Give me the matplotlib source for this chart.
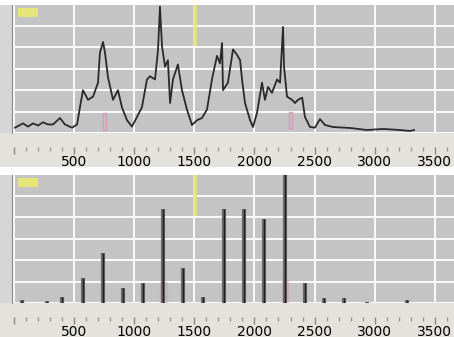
"""Two-panel mass spectrum view: profile trace on top, centroided peaks below."""

import matplotlib.pyplot as plt
from matplotlib.patches import Rectangle

# profile spectrum (top panel)
profile_mz = [10, 77, 118, 160, 201, 243, 284, 326, 384, 425, 484, 526, 550,
              575, 617, 659, 700, 716, 742, 758, 783, 825, 866, 899, 941, 982,
              1024, 1065, 1107, 1132, 1174, 1199, 1215, 1232, 1257, 1281, 1299,
              1323, 1364, 1398, 1439, 1481, 1523, 1564, 1606, 1647, 1689, 1714,
              1731, 1739, 1780, 1822, 1855, 1881, 1897, 1922, 1964, 1988, 2022,
              2063, 2088, 2113, 2146, 2188, 2213, 2238, 2246, 2271, 2313, 2337,
              2362, 2397, 2420, 2462, 2503, 2545, 2586, 2653, 2794, 2936, 3069,
              3210, 3293, 3327]
profile_int = [5, 9, 6, 9, 7, 10, 8, 8, 14, 8, 5, 8, 24,
               40, 31, 34, 47, 75, 85, 75, 52, 31, 40, 24, 12, 6,
               15, 24, 50, 53, 50, 78, 118, 81, 62, 68, 28,
               50, 64, 40, 22, 7.5, 12, 14, 22, 50, 72, 65,
               84, 40, 47, 78, 73, 68, 50, 28, 12, 5.6, 19,
               47, 31, 43, 37.5, 50, 47, 99, 62, 34, 31, 28,
               31, 33, 15, 5.6, 5, 13, 7.5, 5.6, 4.7, 2.8,
               3.8, 2.8, 1.9, 2.8]

# centroided peaks (bottom panel)
peak_mz = [65, 273, 398, 572, 744, 910, 1076, 1243, 1409, 1575, 1748, 1916,
           2082, 2255, 2420, 2576, 2743, 2936, 3269]
peak_int = [2.8, 1.9, 5.6, 23, 47, 14, 19, 88, 33, 5.6, 88, 88,
            78, 125, 19, 4.7, 4.7, 1, 2.8]

# pink label markers: (centre m/z, bottom, top)
top_marks = [(756, 3, 19), (2300, 5, 20)]
bottom_marks = [(1243, 1, 19.5), (2255, 1, 21.5)]

cursor_mz = 1508
xticks_major = [0, 500, 1000, 1500, 2000, 2500, 3000, 3500]
xlabels = ["", "500", "1000", "1500", "2000", "2500", "3000", "3500"]

PLOT_BG = "#c4c4c4"
BAND_BG = "#e4e2dc"
STRIP_BG = "#d6d6d6"
PINK = "#d89ab8"
YELLOW = "#e6e678"


def style_panel(ax):
    ax.set_facecolor(PLOT_BG)
    ax.set_xlim(-15, 3659)
    ax.set_ylim(0, 119.5)
    ax.set_yticks(range(0, 120, 20))
    ax.set_xticks(xticks_major)
    ax.set_xticks(range(0, 3601, 100), minor=True)
    ax.set_xticklabels(xlabels, fontsize=6.5, fontweight="bold", color="#505050")
    ax.grid(True, which="major", color="white", lw=1.3)
    ax.set_axisbelow(True)
    for s in ("top", "right"):
        ax.spines[s].set_visible(False)
    ax.spines["left"].set_color("#8a8a8a")
    # tick row sits ~14 px below the plot, inside the beige band
    ax.spines["bottom"].set_position(("outward", 10))
    ax.spines["bottom"].set_visible(False)
    ax.tick_params(axis="y", length=0, labelleft=False)
    ax.tick_params(axis="x", which="major", length=5, width=1, color="#888888", pad=0.5)
    ax.tick_params(axis="x", which="minor", length=3, width=1, color="#999999")
    # yellow badge and cursor
    ax.add_patch(Rectangle((33, 108), 172, 9, color=YELLOW, lw=0))
    ax.axvspan(cursor_mz - 16, cursor_mz + 16, ymin=0.68, ymax=1, color=YELLOW, lw=0, alpha=0.9)


fig = plt.figure(figsize=(4.54, 3.37), dpi=100, facecolor="white")

# background bands behind each panel (figure coordinates)
for y0 in (0.0, 0.5045):
    fig.patches.append(Rectangle((0, y0), 1, 0.1009, transform=fig.transFigure,
                                 color=BAND_BG, lw=0, zorder=-5))
for y0 in (0.1009, 0.6053):
    fig.patches.append(Rectangle((0, y0), 0.0264, 0.3798, transform=fig.transFigure,
                                 color=STRIP_BG, lw=0, zorder=-5))

ax1 = fig.add_axes([0.0264, 0.6053, 0.9736, 0.3798])
style_panel(ax1)
ax1.plot(profile_mz, profile_int, color="#2a2a2a", lw=1.3, solid_joinstyle="round")
for mz, lo, hi in top_marks:
    ax1.add_patch(Rectangle((mz - 14, lo), 28, hi - lo, fill=False, ec=PINK, lw=1))

ax2 = fig.add_axes([0.0264, 0.1009, 0.9736, 0.3798])
style_panel(ax2)
for mz, lo, hi in bottom_marks:
    ax2.add_patch(Rectangle((mz - 28, lo), 56, hi - lo, fc=PINK, alpha=0.35, ec=PINK, lw=1))
ax2.vlines(peak_mz, 0, peak_int, color="#6a6a6a", lw=3)
ax2.vlines(peak_mz, 0, peak_int, color="#1e1e1e", lw=1)

fig.savefig("out.png", dpi=100, facecolor="white")
